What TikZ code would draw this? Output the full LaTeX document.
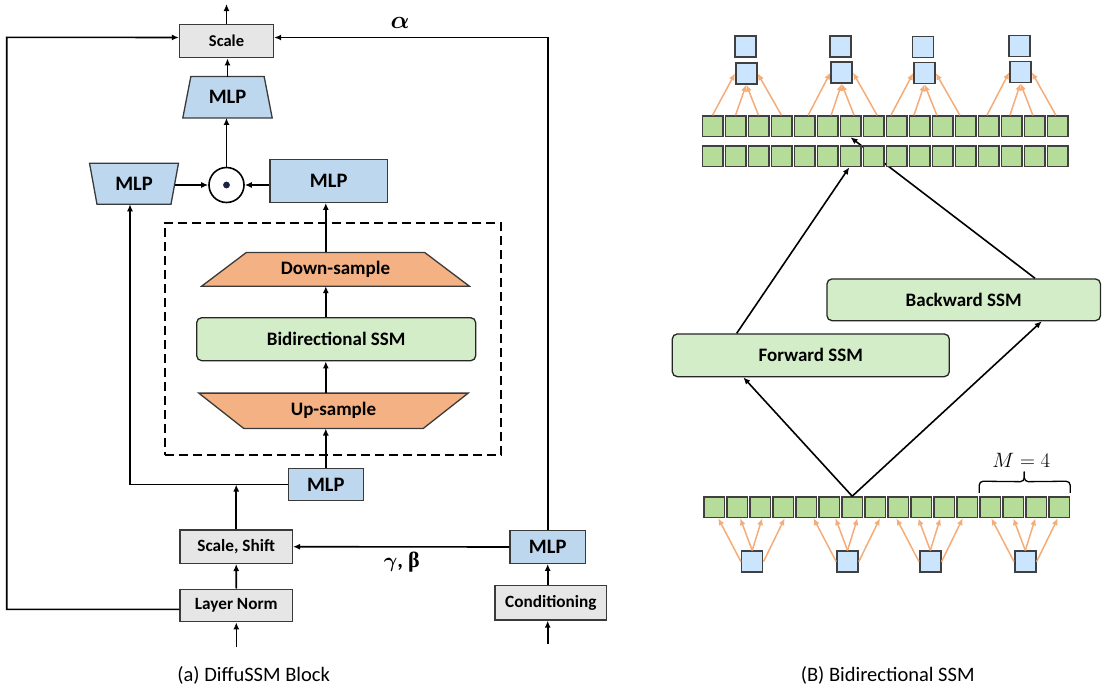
\documentclass[tikz,border=0pt]{standalone}
\usepackage{fontspec}
\setmainfont{Carlito}
\newfontfamily\serifb{Liberation Serif}
\usepackage{amsmath,bm}
\usetikzlibrary{arrows.meta,calc}
\pgfdeclarelayer{bg}
\pgfsetlayers{bg,main}

\definecolor{boxgray}{HTML}{E7E6E6}
\definecolor{edge}{HTML}{3A3A3A}
\definecolor{mlpblue}{HTML}{BDD7EE}
\definecolor{samporange}{HTML}{F4B183}
\definecolor{ssmgreen}{HTML}{D4EDC9}
\definecolor{cellgreen}{HTML}{B6DC9A}
\definecolor{cellblue}{HTML}{CCE5FF}
\definecolor{fanorange}{HTML}{F4AC78}
\definecolor{dotnavy}{HTML}{1A2340}

% trapezoid outline around a text node: name, half top width, half bottom width, fill
\newcommand\trapbox[4]{%
  \draw[draw=edge,line width=1.3pt,fill=#4]
    ([xshift=-#2]#1.north) -- ([xshift=#2]#1.north) --
    ([xshift=#3]#1.south) -- ([xshift=-#3]#1.south) -- cycle;}

\tikzset{
  graybox/.style={draw=edge, fill=boxgray, line width=1.3pt, inner sep=0pt,
    font=\fontsize{17.2}{20}\selectfont\bfseries},
  bluebox/.style={draw=edge, fill=mlpblue, line width=1.3pt, inner sep=0pt,
    font=\fontsize{20.5}{24}\selectfont\bfseries},
  ghost/.style={inner sep=0pt, font=\fontsize{20.5}{24}\selectfont\bfseries},
  ssmbox/.style={draw=black!85, fill=ssmgreen, rounded corners=5pt, line width=1.3pt,
    inner sep=0pt, font=\fontsize{19}{22}\selectfont\bfseries},
  flow/.style={-{Latex[length=7pt,width=6pt]}, line width=1.6pt},
  cell/.style={draw=black!75, fill=cellgreen, line width=1.5pt, minimum size=20.5pt, inner sep=0pt},
  bcell/.style={draw=black!75, fill=cellblue, line width=1.5pt, minimum size=21pt, inner sep=0pt},
  fan/.style={draw=fanorange, line width=1.5pt, -{Latex[length=7pt,width=6pt]}},
  captext/.style={font=\fontsize{20.5}{24}\selectfont},
  bracepath/.style={line width=1.3pt, rounded corners=4pt},
}

\begin{document}
\begin{tikzpicture}[x=1pt,y=-1pt]
\useasboundingbox (0,0) rectangle (1102,688);

% ---------------- DiffuSSM block ----------------
\node[graybox, minimum width=94pt, minimum height=33.5pt,
      font=\fontsize{16.5}{20}\selectfont\bfseries] (scale) at (226.5,41) {Scale};
\node[ghost, minimum width=81.4pt, minimum height=41pt] (topmlp) at (227.5,97.2) {MLP};
\node[draw=black, fill=white, circle, line width=1.6pt, minimum size=35pt, inner sep=0pt] (dot) at (226.5,185) {};
\fill[dotnavy] (dot.center) circle (3.4pt);
\node[ghost, minimum width=81.5pt, minimum height=40.7pt] (lmlp) at (134,183.7) {MLP};
\node[bluebox, minimum width=117.3pt, minimum height=43pt] (rmlp) at (328.7,180.8) {MLP};

\node[draw=black, dashed, dash pattern=on 9pt off 5pt, line width=1.6pt,
      minimum width=336pt, minimum height=232.3pt, inner sep=0pt] (group) at (333,338.85) {};
\node[ghost, minimum width=223pt, minimum height=33.3pt,
      font=\fontsize{19}{22}\selectfont\bfseries] (down) at (335.5,269.3) {Down-sample};
\node[ssmbox, minimum width=279pt, minimum height=43pt] (bissm) at (336.2,339.2) {Bidirectional SSM};
\node[ghost, minimum width=224.4pt, minimum height=35pt,
      font=\fontsize{19}{22}\selectfont\bfseries] (up) at (333.5,410.8) {Up-sample};

\node[bluebox, minimum width=75pt, minimum height=32.4pt] (lowmlp) at (325.8,484.5) {MLP};
\node[graybox, minimum width=112.3pt, minimum height=33.3pt] (scsh) at (236.2,546.7) {Scale, Shift};
\node[graybox, minimum width=112.5pt, minimum height=32.4pt] (ln) at (236.3,605.5) {Layer Norm};
\node[bluebox, minimum width=75.3pt, minimum height=32.6pt] (bmlp) at (547.7,547) {MLP};
\node[graybox, minimum width=111.7pt, minimum height=34.3pt] (cond) at (550.8,602.8) {Conditioning};

\begin{pgfonlayer}{bg}
  \trapbox{topmlp}{36.65pt}{44.7pt}{mlpblue}
  \trapbox{lmlp}{44.5pt}{37pt}{mlpblue}
  \trapbox{down}{89.15pt}{133.8pt}{samporange}
  \trapbox{up}{134.7pt}{89.7pt}{samporange}
\end{pgfonlayer}

\coordinate (out) at (226.5,4);
\coordinate (inln) at (236.3,646.7);
\coordinate (incond) at (547.7,644);
\coordinate (lft) at (6.7,37.3);

\draw[flow] (scale.north) -- (out);
\draw[flow] (topmlp.north) -- (topmlp.north |- scale.south);
\draw[flow] (dot.north) -- (dot.north |- topmlp.south);
\draw[flow] (lmlp.east |- dot.west) -- (dot.west);
\draw[flow] (rmlp.west |- dot.east) -- (dot.east);
\draw[flow] (lowmlp.north |- down.north) -- (lowmlp.north |- rmlp.south);
\draw[flow] (lowmlp.north |- bissm.north) -- (lowmlp.north |- down.south);
\draw[flow] (lowmlp.north |- up.north) -- (lowmlp.north |- bissm.south);
\draw[flow] (lowmlp.north) -- (lowmlp.north |- up.south);
\draw[flow] (lowmlp.west) -| ([xshift=-4pt]lmlp.south);
\draw[flow] (scsh.north) -- (scsh.north |- lowmlp.west);
\draw[flow] (ln.north) -- (scsh.south);
\draw[flow] (inln) -- (ln.south);
\draw[flow] (incond) -- (incond |- cond.south);
\draw[flow] (incond |- cond.north) -- (bmlp.south);
\draw[flow] (bmlp.west) -- (scsh.east);
\draw[flow] ([yshift=-3.8pt]ln.west) -| (lft) -- ([yshift=3.5pt]scale.west);
\draw[flow] (bmlp.north) |- ([yshift=3.5pt]scale.east);

\node[font=\fontsize{23}{26}\selectfont] (alpha) at (400,23) {$\boldsymbol{\alpha}$};
\node[font=\fontsize{22}{26}\selectfont\bfseries] (gb) at (401.7,561.7) {$\boldsymbol{\gamma}$, {\serifb\bfseries β}};

\node[captext] (capa) at (253.7,675) {(a) DiffuSSM Block};

% ---------------- Bidirectional SSM ----------------
\node[ssmbox, minimum width=277pt, minimum height=42.7pt] (fwd) at (810.8,355.3) {Forward SSM};
\node[ssmbox, minimum width=273.5pt, minimum height=41.7pt] (bwd) at (963.7,299.8) {Backward SSM};

% backward path runs behind the lower token row
\foreach \i in {0,...,15} {
  \node[cell] (t\i) at ({712.5+23*\i},126.3) {};
}
\draw[flow] ([xshift=71.3pt]bwd.north) -- (t6.south);
\foreach \i in {0,...,15} {
  \node[cell] (s\i) at ({712.5+23*\i},156.3) {};
  \node[cell] (b\i) at ({714.2+23*\i},507.2) {};
}

\draw[flow] (b6.north) -- ([xshift=-67.5pt]fwd.south);
\draw[flow] (b6.north) -- ([xshift=78pt]bwd.south);
\draw[flow] ([xshift=-74.1pt]fwd.north) -- ([xshift=-1.2pt]s6.south);

% patch tokens above and below
\foreach \k/\ux/\uy/\lx/\ly in {0/745.5/46.7/746.3/73.3, 1/840.5/46.7/841.7/72.5,
                                2/923.2/47.2/924.5/73, 3/1019.5/45.8/1020.5/72.2} {
  \node[bcell] (u\k) at (\ux,\uy) {};
  \node[bcell] (l\k) at (\lx,\ly) {};
}
\foreach \k/\bx in {0/752.2, 1/847.5, 2/930.3, 3/1025.3} {
  \node[bcell] (q\k) at (\bx,561.7) {};
}

% merge fans: four tokens into one patch
\foreach \k/\sh in {0/0, 1/3.6, 2/-5.6, 3/-1.6} {
  \foreach \j/\to in {0/west, 1/south, 2/south, 3/east} {
    \pgfmathtruncatemacro\i{4*\k+\j}
    \draw[fan] ([xshift=\sh pt]t\i.north) -- (l\k.\to);
  }
}
% split fans: one patch into four tokens
\foreach \k/\bx in {0/752.2, 1/847.5, 2/930.3, 3/1025.3} {
  \foreach \j/\off/\from in {0/-34/west, 1/-12/north, 2/10/north, 3/32.5/east} {
    \pgfmathtruncatemacro\i{4*\k+\j}
    \pgfmathsetmacro\sh{\bx+\off-714.2-23*\i}
    \draw[fan] (q\k.\from) -- ([xshift=\sh pt]b\i.south);
  }
}

% group brace
\draw[bracepath] ([yshift=3.4pt]b12.north west) -- ++(0,-11.6) -- (1024.3,481.7) -- (1024.3,471.7);
\draw[bracepath] ([yshift=3.4pt]b15.north east) -- ++(0,-11.6) -- (1024.3,481.7) -- (1024.3,471.7);
\node[font=\fontsize{21}{24}\selectfont] (mlab) at (1021.3,460.5) {$M=4$};

\node[captext] (capb) at (887.7,675) {(B) Bidirectional SSM};
\end{tikzpicture}
\end{document}
